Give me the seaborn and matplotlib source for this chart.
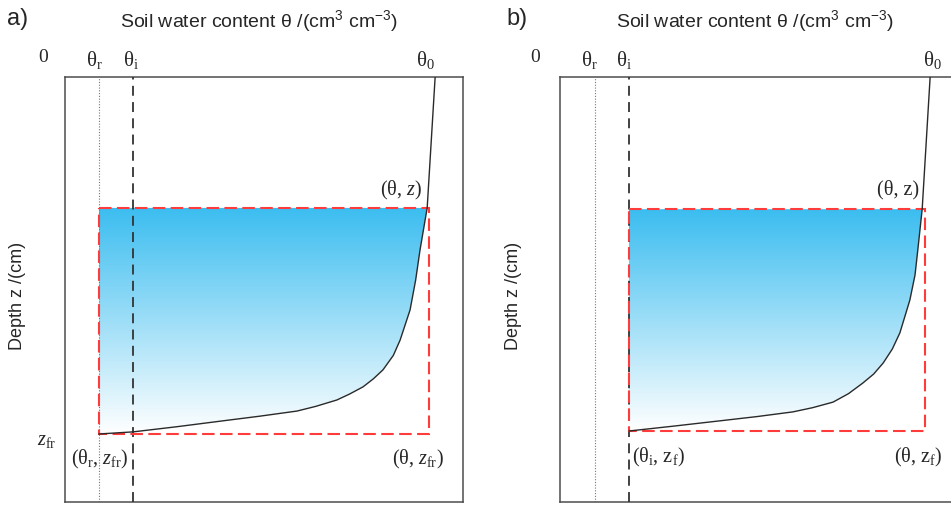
import numpy as np
import pandas as pd
import matplotlib
matplotlib.use("Agg")
import matplotlib.pyplot as plt
import seaborn as sns
from matplotlib.colors import LinearSegmentedColormap
from matplotlib.patches import Polygon, Rectangle

sns.set_theme(style="white")
plt.rcParams["font.family"] = ["Liberation Sans", "DejaVu Sans"]
plt.rcParams["mathtext.fontset"] = "custom"
plt.rcParams["mathtext.rm"] = "Liberation Serif"
plt.rcParams["mathtext.it"] = "Liberation Serif:italic"
plt.rcParams["mathtext.sf"] = "Liberation Sans"

# ---- characteristic water contents (axis range 0..1) and depths (0..100) ----
theta_r_a = 0.085
theta_i_a = 0.171
theta_r_b = 0.088
theta_i_b = 0.173
theta_front_a = 0.915      # right edge of the wetted block
theta_front_b = 0.917
z_top_a = 30.8             # depth of the point (theta, z)
z_top_b = 31.1
z_fr_a = 84.0              # freezing front depth
z_f_b = 83.3               # wetting front depth

# ---- soil water content profiles ----
profile_a_theta = [0.930, 0.910, 0.892, 0.881, 0.867, 0.842, 0.825, 0.799,
                   0.775, 0.749, 0.715, 0.683, 0.630, 0.583, 0.490, 0.397,
                   0.280, 0.171, 0.085]
profile_a_depth = [0.0, 30.8, 40.7, 47.8, 54.8, 61.9, 65.5, 68.9,
                   71.0, 72.9, 74.6, 76.0, 77.5, 78.6, 79.8, 80.9,
                   82.3, 83.5, 84.0]

profile_b_theta = [0.930, 0.910, 0.899, 0.892, 0.879, 0.854, 0.835, 0.812,
                   0.788, 0.761, 0.725, 0.686, 0.635, 0.585, 0.495, 0.402,
                   0.290, 0.173]
profile_b_depth = [0.0, 31.1, 40.7, 46.6, 52.5, 60.2, 64.0, 67.3,
                   69.9, 72.0, 74.5, 76.5, 77.8, 78.8, 79.9, 80.9,
                   82.1, 83.3]

W, H = 951, 508
fig = plt.figure(figsize=(W / 100, H / 100), dpi=100)


def fx(px):
    return px / W


def fy(py):
    return 1 - py / H


front_cmap = LinearSegmentedColormap.from_list("front", ["#ffffff", "#3bbdf0"])
serif = ["Liberation Serif", "DejaVu Serif"]


def draw_panel(left_px, prof_t, prof_z, theta_r, theta_i, theta_left,
               theta_front, z_top, z_end):
    ax = fig.add_axes([fx(left_px), fy(502), 398 / W, 425 / H])
    ax.set_xlim(0, 1)
    ax.set_ylim(100, 0)

    # gradient fill of the wetted zone between the left bound and the profile
    poly = [(theta_left, z_top)]
    poly += [(t, z) for t, z in zip(prof_t, prof_z) if z >= z_top]
    poly += [(theta_left, z_end)]
    clip = Polygon(poly, closed=True, facecolor="none", edgecolor="none")
    ax.add_patch(clip)
    grad = np.linspace(0, 1, 256).reshape(-1, 1)
    im = ax.imshow(grad, cmap=front_cmap, aspect="auto", origin="lower",
                   extent=(theta_left, theta_front, z_end, z_top),
                   interpolation="bicubic", zorder=1)
    im.set_clip_path(clip)
    ax.set_xlim(0, 1)
    ax.set_ylim(100, 0)

    # residual and initial water content lines
    ax.axvline(theta_r, color="#777777", lw=0.8, ls=(0, (1, 1.5)), zorder=2)
    ax.axvline(theta_i, color="#333333", lw=1.3, ls=(0, (5.5, 3.5)), zorder=3)

    # wetted block outline
    ax.add_patch(Rectangle((theta_left, z_top), theta_front - theta_left,
                           z_end - z_top, fill=False, edgecolor="#ff3b3b",
                           lw=1.5, ls=(0, (6, 2.6)), zorder=4))

    df = pd.DataFrame({"theta": prof_t, "depth": prof_z})
    sns.lineplot(data=df, x="theta", y="depth", sort=False, estimator=None,
                 color="#2a2a2a", lw=1.0, ax=ax, zorder=5)

    ax.set_xlabel("")
    ax.set_ylabel("")
    ax.set_xticks([])
    ax.set_yticks([])
    for s in ax.spines.values():
        s.set_color("#4d4d4d")
        s.set_linewidth(1.1)
    return ax


ax_a = draw_panel(65, profile_a_theta, profile_a_depth, theta_r_a, theta_i_a,
                  theta_r_a, theta_front_a, z_top_a, z_fr_a)
ax_b = draw_panel(560, profile_b_theta, profile_b_depth, theta_r_b, theta_i_b,
                  theta_i_b, theta_front_b, z_top_b, z_f_b)

title = r"Soil water content θ /(cm$\mathsf{^{3}}$ cm$\mathsf{^{-3}}$)"
title_fs = 14
sym_fs = 15
pt_fs = 14.5


def serif_text(px, py, s, fs=pt_fs):
    fig.text(fx(px), fy(py), s, fontsize=fs, family=serif,
             ha="center", va="center")


# panel a texts
fig.text(fx(18), fy(19), "a)", fontsize=17, ha="center", va="center")
fig.text(fx(259), fy(21), title, fontsize=title_fs, ha="center", va="center")
fig.text(fx(18), fy(296), "Depth z /(cm)", fontsize=13, rotation=90,
         ha="center", va="center")
serif_text(43, 58, "0", 14)
serif_text(94, 60, r"θ$_\mathrm{r}$", sym_fs)
serif_text(131, 60, r"θ$_\mathrm{i}$", sym_fs)
serif_text(425, 60, r"θ$_\mathrm{0}$", sym_fs)
serif_text(401, 190, r"(θ, $z$)")
serif_text(47, 440, r"$z_\mathrm{fr}$")
serif_text(100, 459, r"(θ$_\mathrm{r}$, $z_\mathrm{fr}$)")
serif_text(418, 459, r"(θ, $z_\mathrm{fr}$)")

# panel b texts
fig.text(fx(517), fy(19), "b)", fontsize=17, ha="center", va="center")
fig.text(fx(755), fy(21), title, fontsize=title_fs, ha="center", va="center")
fig.text(fx(513), fy(296), "Depth z /(cm)", fontsize=13, rotation=90,
         ha="center", va="center")
serif_text(535, 58, "0", 14)
serif_text(589, 60, r"θ$_\mathrm{r}$", sym_fs)
serif_text(624, 60, r"θ$_\mathrm{i}$", sym_fs)
serif_text(932, 60, r"θ$_\mathrm{0}$", sym_fs)
serif_text(898, 190, r"(θ, z)")
serif_text(659, 457, r"(θ$_\mathrm{i}$, z$_\mathrm{f}$)")
serif_text(918, 457, r"(θ, z$_\mathrm{f}$)")

fig.savefig("out.png", dpi=100)
